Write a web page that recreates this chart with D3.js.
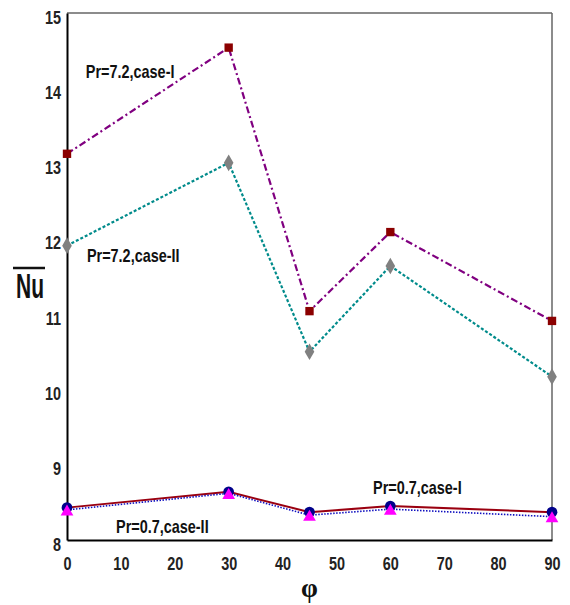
<!DOCTYPE html>
<html>
<head>
<meta charset="utf-8">
<script src="https://cdn.jsdelivr.net/npm/d3@7"></script>
<style>
  body { margin: 0; background: #fff; }
  text { font-family: "Liberation Sans", Arial, sans-serif; font-weight: bold; }
</style>
</head>
<body>
<div id="chart"></div>
<script>
var width = 570, height = 605;
var margin = {left: 67, right: 18, top: 13, bottom: 65};
var squeeze = 0.76;

var phi = [0, 30, 45, 60, 90];
var pr72case1 = [13.13, 14.54, 11.04, 12.09, 10.91];
var pr72case2 = [11.91, 13.01, 10.50, 11.64, 10.17];
var pr07case1 = [8.43, 8.64, 8.37, 8.45, 8.37];
var pr07case2 = [8.40, 8.62, 8.33, 8.41, 8.31];
var xTicks = [0, 10, 20, 30, 40, 50, 60, 70, 80, 90];
var yTicks = [8, 9, 10, 11, 12, 13, 14, 15];

var svg = d3.select('#chart').append('svg')
  .attr('width', width)
  .attr('height', height);

var x = d3.scaleLinear().domain([0, 90]).range([margin.left, width - margin.right]);
var y = d3.scaleLinear().domain([8, 15]).range([height - margin.bottom, margin.top]);

// frame: top/right grey, left/bottom black
svg.append('line').attr('x1', x(0)).attr('x2', x(90)).attr('y1', y(15)).attr('y2', y(15))
  .attr('stroke', '#666').attr('stroke-width', 1.5);
svg.append('line').attr('x1', x(90)).attr('x2', x(90)).attr('y1', y(15)).attr('y2', y(8))
  .attr('stroke', '#666').attr('stroke-width', 1.5);

var xAxis = svg.append('g').attr('transform', 'translate(0,' + y(8) + ')')
  .call(d3.axisBottom(x).tickValues(xTicks).tickSize(0).tickPadding(17));
var yAxis = svg.append('g').attr('transform', 'translate(' + x(0) + ',0)')
  .call(d3.axisLeft(y).tickValues(yTicks).tickFormat(d3.format('d')).tickSize(0).tickPadding(6));
[xAxis, yAxis].forEach(function(a) {
  a.select('.domain').attr('stroke', '#000').attr('stroke-width', 2);
  a.selectAll('text').attr('font-size', 19).attr('fill', '#222')
    .style('font-family', '"Liberation Sans", Arial, sans-serif').style('font-weight', 'bold');
});
xAxis.selectAll('text').attr('transform', 'scale(' + squeeze + ',1)');
yAxis.selectAll('text').attr('dy', '0.53em')
  .attr('x', -6 / squeeze).attr('transform', 'scale(' + squeeze + ',1)');

var line = d3.line().x(function(d, i) { return x(phi[i]); }).y(function(d) { return y(d); });

var series = [
  {vals: pr72case1, color: '#800080', width: 2.2, dash: '7,3,2,3', marker: 'square', fill: '#8b0000'},
  {vals: pr72case2, color: '#008b8b', width: 2.2, dash: '3,2', marker: 'diamond', fill: '#808080'},
  {vals: pr07case1, color: '#9a0010', width: 2, dash: null, marker: 'circle', fill: '#00008b'},
  {vals: pr07case2, color: '#1010c0', width: 1.6, dash: '1.5,1.5', marker: 'triangle', fill: '#ff00ff'}
];

var symbols = {square: d3.symbolSquare, diamond: d3.symbolDiamond, circle: d3.symbolCircle, triangle: d3.symbolTriangle};
var sizes = {square: 70, diamond: 80, circle: 90, triangle: 70};

series.forEach(function(s) {
  svg.append('path').datum(s.vals)
    .attr('d', line)
    .attr('fill', 'none')
    .attr('stroke', s.color)
    .attr('stroke-width', s.width)
    .attr('stroke-dasharray', s.dash);
});
series.forEach(function(s) {
  svg.selectAll(null).data(s.vals).enter()
    .append('path')
    .attr('d', d3.symbol().type(symbols[s.marker]).size(sizes[s.marker]))
    .attr('transform', function(d, i) {
      var dy = s.marker === 'triangle' ? 2 : 0;
      return 'translate(' + x(phi[i]) + ',' + (y(d) + dy) + ')';
    })
    .attr('fill', s.fill);
});

var labels = [
  {text: 'Pr=7.2,case-I', px: 3.5, py: 14.14},
  {text: 'Pr=7.2,case-II', px: 3.7, py: 11.69},
  {text: 'Pr=0.7,case-II', px: 9.1, py: 8.09},
  {text: 'Pr=0.7,case-I', px: 56.8, py: 8.61}
];
svg.selectAll('.lbl').data(labels).enter()
  .append('text').attr('class', 'lbl')
  .attr('transform', function(d) { return 'translate(' + x(d.px) + ',' + y(d.py) + ') scale(0.78,1)'; })
  .attr('font-size', 18.5)
  .attr('fill', '#111')
  .text(function(d) { return d.text; });

// axis titles
svg.append('text').attr('transform', 'translate(16,298) scale(0.6,1)')
  .attr('font-size', 35).attr('fill', '#111').text('Nu');
svg.append('line').attr('x1', 13).attr('x2', 45).attr('y1', 268).attr('y2', 268)
  .attr('stroke', '#111').attr('stroke-width', 2.5);
svg.append('text').attr('x', x(45)).attr('y', 597).attr('text-anchor', 'middle')
  .attr('font-size', 27).attr('fill', '#111')
  .style('font-family', '"Liberation Serif", serif').text('φ');
</script>
</body>
</html>
